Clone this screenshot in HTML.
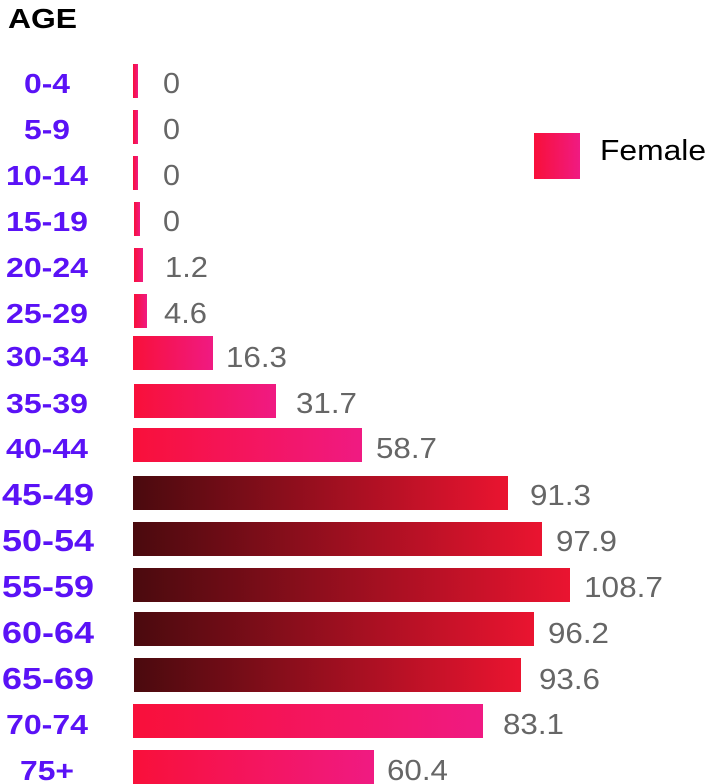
<!DOCTYPE html>
<html><head><meta charset="utf-8"><style>
html,body{margin:0;padding:0;background:#fff;}
svg{display:block;}
.a{font-family:"Liberation Sans",sans-serif;font-weight:bold;fill:#5a12f6;font-size:28px;text-anchor:middle;}
.b{font-size:31px;}
.v{font-family:"Liberation Sans",sans-serif;fill:#666;font-size:29px;}
</style></head><body>
<svg width="706" height="784" viewBox="0 0 706 784" xmlns="http://www.w3.org/2000/svg">
<defs>
<linearGradient id="p" x1="0" x2="1" y1="0" y2="0"><stop offset="0" stop-color="#f8103a"/><stop offset="1" stop-color="#f01a82"/></linearGradient>
<linearGradient id="d" x1="0" x2="1" y1="0" y2="0"><stop offset="0" stop-color="#4a0a0e"/><stop offset="1" stop-color="#ea1430"/></linearGradient>
</defs>
<text x="8" y="28" font-family="Liberation Sans,sans-serif" font-weight="bold" font-size="28" fill="#000" textLength="69" lengthAdjust="spacingAndGlyphs">AGE</text>
<rect x="534" y="133" width="46" height="46" fill="url(#p)"/>
<text x="600" y="160" font-family="Liberation Sans,sans-serif" font-size="29" fill="#000" textLength="106" lengthAdjust="spacingAndGlyphs">Female</text>

<g>
<rect x="133" y="64" width="5" height="34" fill="url(#p)"/>
<rect x="133" y="110" width="5" height="34" fill="url(#p)"/>
<rect x="133" y="156" width="5" height="34" fill="url(#p)"/>
<rect x="134" y="202" width="6" height="34" fill="url(#p)"/>
<rect x="134" y="248" width="9" height="34" fill="url(#p)"/>
<rect x="134" y="294" width="13" height="34" fill="url(#p)"/>
<rect x="133" y="336" width="80" height="34" fill="url(#p)"/>
<rect x="134" y="384" width="142" height="34" fill="url(#p)"/>
<rect x="133" y="428" width="229" height="34" fill="url(#p)"/>
<rect x="133" y="476" width="375" height="34" fill="url(#d)"/>
<rect x="133" y="522" width="409" height="34" fill="url(#d)"/>
<rect x="133" y="568" width="437" height="34" fill="url(#d)"/>
<rect x="134" y="612" width="400" height="34" fill="url(#d)"/>
<rect x="134" y="658" width="387" height="34" fill="url(#d)"/>
<rect x="133" y="704" width="350" height="34" fill="url(#p)"/>
<rect x="133" y="750" width="241" height="34" fill="url(#p)"/>
</g>

<g>
<text class="a" x="47" y="93" textLength="46" lengthAdjust="spacingAndGlyphs">0-4</text>
<text class="a" x="47" y="139" textLength="46" lengthAdjust="spacingAndGlyphs">5-9</text>
<text class="a" x="47" y="185" textLength="82" lengthAdjust="spacingAndGlyphs">10-14</text>
<text class="a" x="47" y="231" textLength="82" lengthAdjust="spacingAndGlyphs">15-19</text>
<text class="a" x="47" y="277" textLength="82" lengthAdjust="spacingAndGlyphs">20-24</text>
<text class="a" x="47" y="323" textLength="82" lengthAdjust="spacingAndGlyphs">25-29</text>
<text class="a" x="47" y="366" textLength="82" lengthAdjust="spacingAndGlyphs">30-34</text>
<text class="a" x="47" y="413" textLength="82" lengthAdjust="spacingAndGlyphs">35-39</text>
<text class="a" x="47" y="458" textLength="82" lengthAdjust="spacingAndGlyphs">40-44</text>
<text class="a b" x="48" y="505" textLength="92" lengthAdjust="spacingAndGlyphs">45-49</text>
<text class="a b" x="48" y="551" textLength="92" lengthAdjust="spacingAndGlyphs">50-54</text>
<text class="a b" x="48" y="597" textLength="92" lengthAdjust="spacingAndGlyphs">55-59</text>
<text class="a b" x="48" y="643" textLength="92" lengthAdjust="spacingAndGlyphs">60-64</text>
<text class="a b" x="48" y="689" textLength="92" lengthAdjust="spacingAndGlyphs">65-69</text>
<text class="a" x="47" y="734" textLength="82" lengthAdjust="spacingAndGlyphs">70-74</text>
<text class="a" x="47" y="780" textLength="54" lengthAdjust="spacingAndGlyphs">75+</text>
</g>

<g>
<text class="v" x="163" y="93" textLength="17" lengthAdjust="spacingAndGlyphs">0</text>
<text class="v" x="163" y="139" textLength="17" lengthAdjust="spacingAndGlyphs">0</text>
<text class="v" x="163" y="185" textLength="17" lengthAdjust="spacingAndGlyphs">0</text>
<text class="v" x="163" y="231" textLength="17" lengthAdjust="spacingAndGlyphs">0</text>
<text class="v" x="165" y="277" textLength="43" lengthAdjust="spacingAndGlyphs">1.2</text>
<text class="v" x="164" y="323" textLength="43" lengthAdjust="spacingAndGlyphs">4.6</text>
<text class="v" x="226" y="367" textLength="61" lengthAdjust="spacingAndGlyphs">16.3</text>
<text class="v" x="296" y="413" textLength="61" lengthAdjust="spacingAndGlyphs">31.7</text>
<text class="v" x="376" y="458" textLength="61" lengthAdjust="spacingAndGlyphs">58.7</text>
<text class="v" x="530" y="505" textLength="61" lengthAdjust="spacingAndGlyphs">91.3</text>
<text class="v" x="556" y="551" textLength="61" lengthAdjust="spacingAndGlyphs">97.9</text>
<text class="v" x="584" y="597" textLength="79" lengthAdjust="spacingAndGlyphs">108.7</text>
<text class="v" x="548" y="643" textLength="61" lengthAdjust="spacingAndGlyphs">96.2</text>
<text class="v" x="539" y="689" textLength="61" lengthAdjust="spacingAndGlyphs">93.6</text>
<text class="v" x="503" y="734" textLength="61" lengthAdjust="spacingAndGlyphs">83.1</text>
<text class="v" x="387" y="780" textLength="61" lengthAdjust="spacingAndGlyphs">60.4</text>
</g>
</svg>
</body></html>
